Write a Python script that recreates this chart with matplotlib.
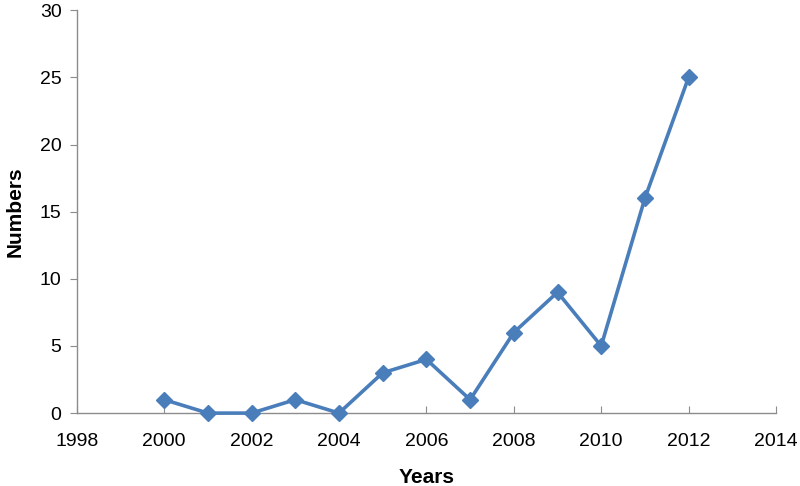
import matplotlib
matplotlib.use("Agg")
import matplotlib.pyplot as plt

years = [2000, 2001, 2002, 2003, 2004, 2005, 2006, 2007, 2008, 2009, 2010, 2011, 2012]
numbers = [1, 0, 0, 1, 0, 3, 4, 1, 6, 9, 5, 16, 25]

x_ticks = [1998, 2000, 2002, 2004, 2006, 2008, 2010, 2012, 2014]
y_ticks = [0, 5, 10, 15, 20, 25, 30]

plt.rcParams["font.family"] = ["Liberation Sans", "DejaVu Sans"]

fig = plt.figure(figsize=(8, 4.86), dpi=100)
ax = fig.add_axes([0.096, 0.150, 0.874, 0.829])

ax.plot(years, numbers, color="#4a7ebb", linewidth=2.6,
        marker="D", markersize=8, markerfacecolor="#4a7ebb",
        markeredgecolor="#4a7ebb", clip_on=False, zorder=3)

ax.set_xlim(1998, 2014)
ax.set_ylim(0, 30)
ax.set_xticks(x_ticks)
ax.set_yticks(y_ticks)

for side in ["top", "right"]:
    ax.spines[side].set_visible(False)
for side in ["left", "bottom"]:
    ax.spines[side].set_color("#8c8c8c")
    ax.spines[side].set_linewidth(1.0)

ax.tick_params(axis="y", direction="out", length=5, color="#8c8c8c",
               labelsize=14, pad=6)
ax.tick_params(axis="x", direction="in", length=5, color="#8c8c8c",
               labelsize=14, pad=14)

ax.set_xlabel("Years", fontsize=15, fontweight="bold", labelpad=13)
ax.set_ylabel("Numbers", fontsize=15, fontweight="bold", labelpad=11)

fig.savefig("out.png", dpi=100)
